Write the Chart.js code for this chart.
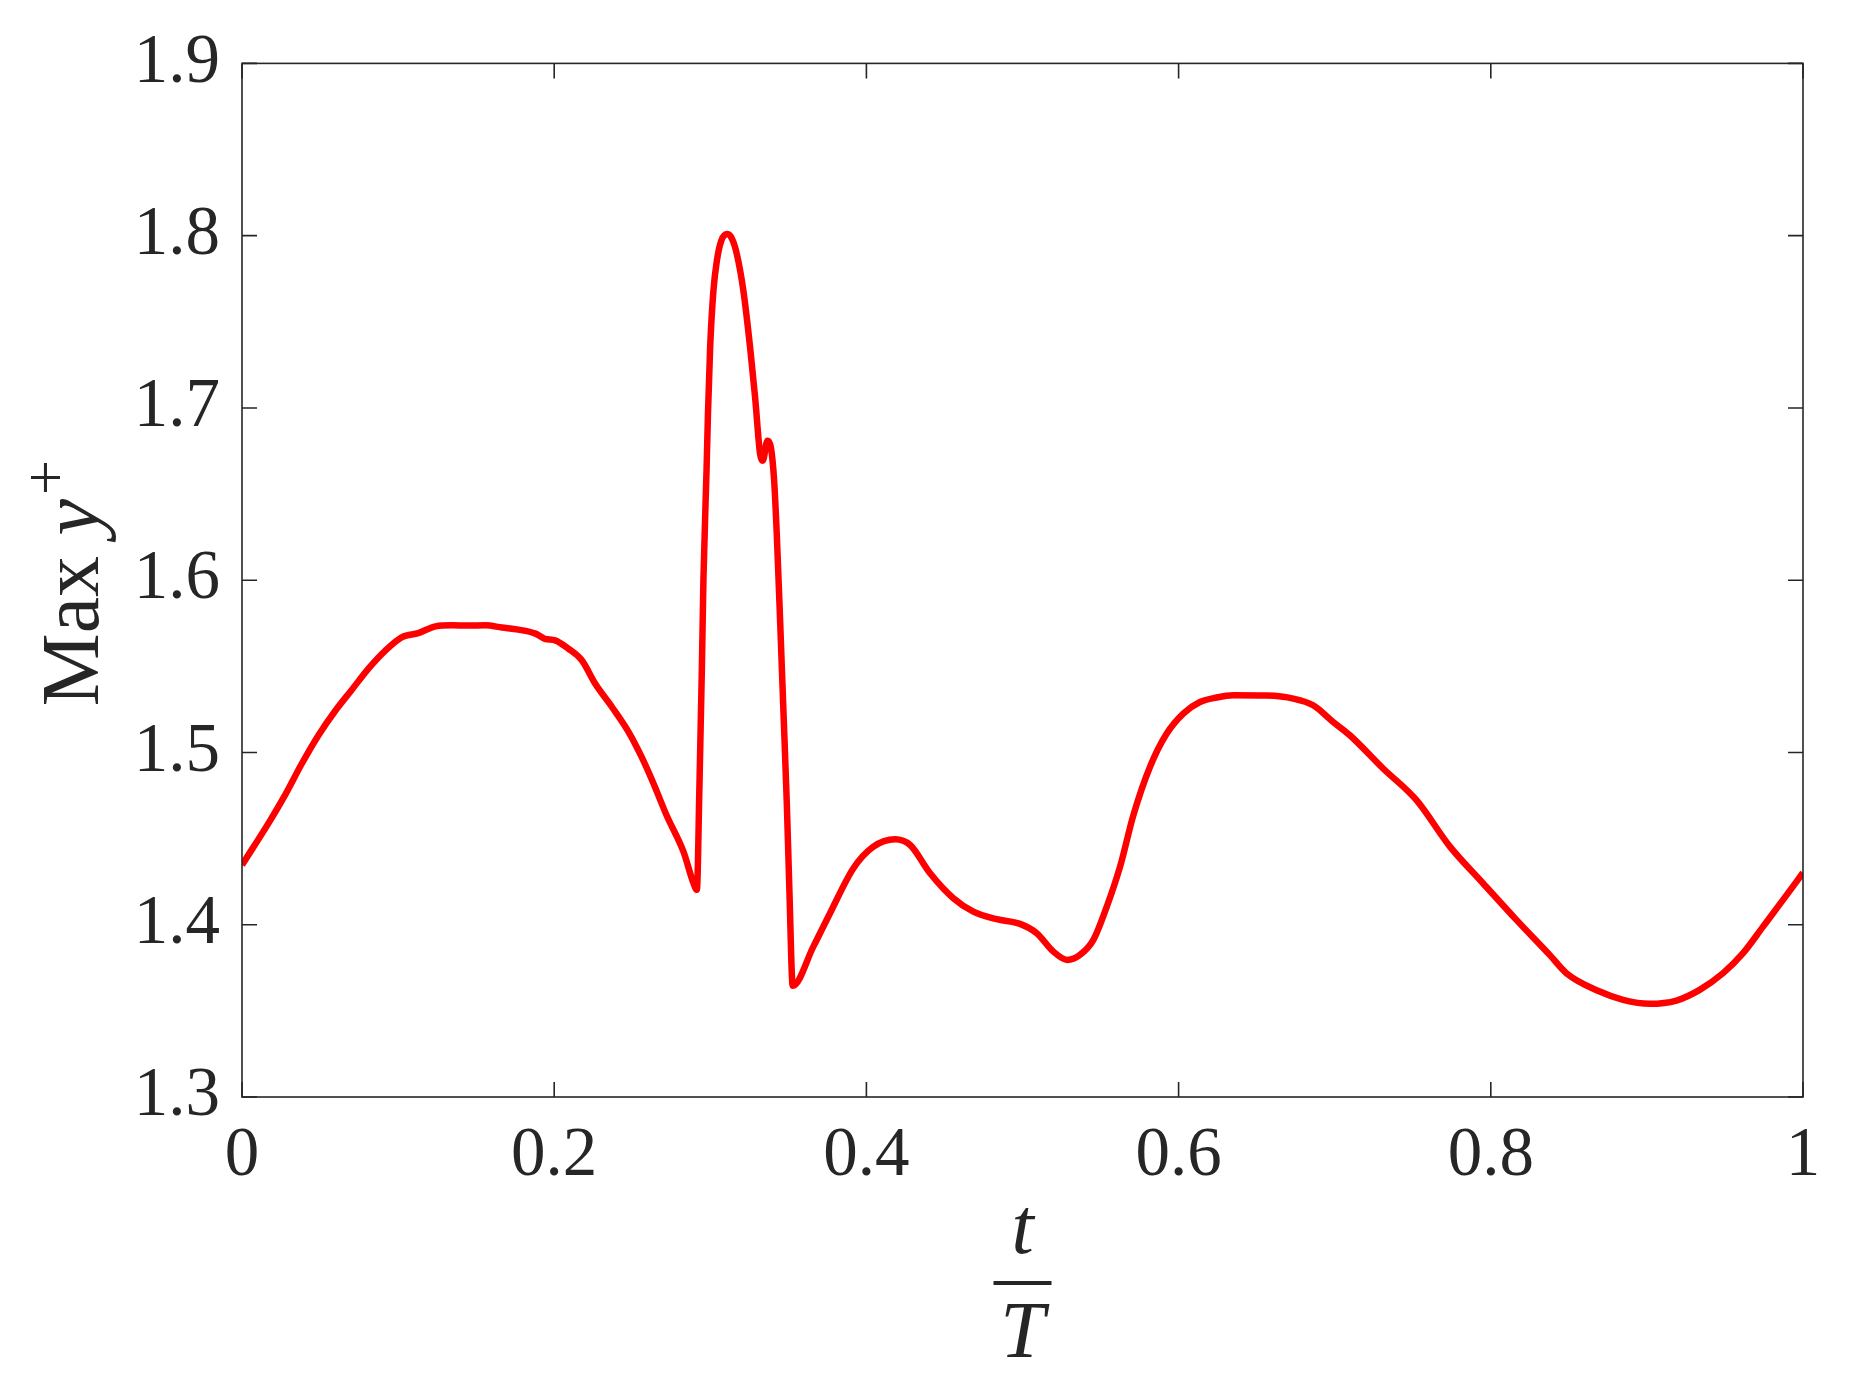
<!DOCTYPE html>
<html>
<head>
<meta charset="utf-8">
<title>Max y+ over one period</title>
<script src="https://cdn.jsdelivr.net/npm/chart.js@4.4.1/dist/chart.umd.min.js"></script>
<style>
  html, body { margin: 0; padding: 0; background: #fff; }
  #wrap { width: 1868px; height: 1391px; }
</style>
</head>
<body>
<div id="wrap"><canvas id="chart" width="1868" height="1391"></canvas></div>
<script>
// Data
const tOverT = [
    0, 0.017, 0.028, 0.038, 0.049, 0.060, 0.070, 0.081, 0.092, 0.1025,
    0.113, 0.124, 0.1345, 0.145, 0.156, 0.1665, 0.177, 0.188, 0.194, 0.2006,
    0.209, 0.2177, 0.2262, 0.237, 0.2476, 0.256, 0.2636, 0.2722, 0.2828, 0.2892,
    0.2914, 0.293, 0.2946, 0.2956, 0.2976, 0.2985, 0.2999, 0.302, 0.3042, 0.307,
    0.311, 0.314, 0.317, 0.3212, 0.3255, 0.3287, 0.3319, 0.3336, 0.3366, 0.3388,
    0.3409, 0.3426, 0.3448, 0.3469, 0.349, 0.3507, 0.3528, 0.366, 0.3767, 0.3917,
    0.4045, 0.4184, 0.428, 0.4408, 0.4557, 0.4685, 0.4835, 0.4984, 0.5091, 0.5198,
    0.5287, 0.5368, 0.5454, 0.554, 0.5625, 0.571, 0.5817, 0.5924, 0.603, 0.6137,
    0.6244, 0.635, 0.6564, 0.6734, 0.6862, 0.699, 0.7097, 0.731, 0.7524, 0.7737,
    0.795, 0.8164, 0.8377, 0.8484, 0.8698, 0.8847, 0.9018, 0.9189, 0.9338, 0.9488,
    0.9616, 0.9744, 0.9872, 1.0
];
const maxYPlus = [
    1.4347, 1.459, 1.476, 1.493, 1.510, 1.5245, 1.536, 1.5487, 1.5593, 1.567,
    1.5693, 1.5732, 1.5738, 1.5737, 1.5738, 1.5725, 1.5713, 1.569, 1.566, 1.5651,
    1.5603, 1.5535, 1.540, 1.5264, 1.512, 1.4974, 1.482, 1.4631, 1.4424, 1.4242,
    1.4203, 1.4787, 1.5487, 1.6005, 1.6640, 1.6965, 1.7351, 1.768, 1.7854, 1.797,
    1.8009, 1.798, 1.7893, 1.768, 1.7351, 1.7062, 1.6733, 1.6694, 1.681, 1.6771,
    1.6578, 1.6264, 1.5746, 1.5228, 1.4709, 1.4191, 1.3646, 1.3873, 1.4067, 1.4328,
    1.4453, 1.4496, 1.4463, 1.4299, 1.4154, 1.4076, 1.4032, 1.4005, 1.3951, 1.3844,
    1.3796, 1.3825, 1.3912, 1.4105, 1.4337, 1.4635, 1.4917, 1.511, 1.5226, 1.5293,
    1.5319, 1.5332, 1.533, 1.5313, 1.5274, 1.5177, 1.510, 1.4907, 1.4723, 1.4455,
    1.4241, 1.4028, 1.3825, 1.3719, 1.3612, 1.3564, 1.3541, 1.356, 1.3622, 1.3719,
    1.3835, 1.3989, 1.4144, 1.4302
];

// Tick positions and labels
const xTicks = [0, 0.2, 0.4, 0.6, 0.8, 1];
const xTickLabels = ['0', '0.2', '0.4', '0.6', '0.8', '1'];
const yTicks = [1.3, 1.4, 1.5, 1.6, 1.7, 1.8, 1.9];
const yTickLabels = ['1.3', '1.4', '1.5', '1.6', '1.7', '1.8', '1.9'];

const axisColor = '#262626';
const serif = '"Liberation Serif", "Times New Roman", serif';

// Box around the plot plus inward tick marks on all four sides
const boxPlugin = {
    id: 'box',
    afterDraw(chart) {
        const ctx = chart.ctx;
        const a = chart.chartArea;
        const xs = chart.scales.x;
        const ys = chart.scales.y;
        const len = 15;
        ctx.save();
        ctx.strokeStyle = axisColor;
        ctx.lineWidth = 1.6;
        ctx.strokeRect(a.left, a.top, a.right - a.left, a.bottom - a.top);
        ctx.beginPath();
        xs.ticks.forEach(t => {
            const px = xs.getPixelForValue(t.value);
            ctx.moveTo(px, a.bottom); ctx.lineTo(px, a.bottom - len);
            ctx.moveTo(px, a.top); ctx.lineTo(px, a.top + len);
        });
        ys.ticks.forEach(t => {
            const py = ys.getPixelForValue(t.value);
            ctx.moveTo(a.left, py); ctx.lineTo(a.left + len, py);
            ctx.moveTo(a.right, py); ctx.lineTo(a.right - len, py);
        });
        ctx.stroke();
        ctx.restore();
    }
};

// Axis titles: "Max y+" (rotated) and the fraction t / T
const titlePlugin = {
    id: 'titles',
    afterDraw(chart) {
        const ctx = chart.ctx;
        const a = chart.chartArea;
        ctx.save();
        ctx.fillStyle = axisColor;
        ctx.textBaseline = 'alphabetic';
        ctx.textAlign = 'left';

        // y title
        const big = '82px ' + serif;
        const bigIt = 'italic 82px ' + serif;
        const sup = '62px ' + serif;
        ctx.font = big;
        const w1 = ctx.measureText('Max ').width;
        ctx.font = bigIt;
        const w2 = ctx.measureText('y').width;
        ctx.font = sup;
        const w3 = ctx.measureText('+').width;
        const total = w1 + w2 + 4 + w3;
        const cy = (a.top + a.bottom) / 2 + 3;
        ctx.translate(98, cy);
        ctx.rotate(-Math.PI / 2);
        let x0 = -total / 2;
        ctx.font = big;
        ctx.fillText('Max ', x0, 0);
        x0 += w1;
        ctx.font = bigIt;
        ctx.fillText('y', x0, 0);
        x0 += w2 + 4;
        ctx.font = sup;
        ctx.fillText('+', x0, -32);
        ctx.setTransform(1, 0, 0, 1, 0, 0);

        // x title as a fraction
        const cx = (a.left + a.right) / 2;
        ctx.textAlign = 'center';
        ctx.font = 'italic 80px ' + serif;
        ctx.fillText('t', cx, 1253);
        ctx.fillText('T', cx, 1357);
        ctx.fillRect(cx - 29, 1281, 58, 4);
        ctx.restore();
    }
};

const ctx = document.getElementById('chart').getContext('2d');
const chart = new Chart(ctx, {
    type: 'line',
    data: {
        datasets: [{
            label: 'Max y+',
            data: tOverT.map((t, i) => ({ x: t, y: maxYPlus[i] })),
            borderColor: '#ff0000',
            backgroundColor: '#ff0000',
            borderWidth: 6.5,
            borderJoinStyle: 'round',
            pointRadius: 0,
            fill: false,
            cubicInterpolationMode: 'monotone'
        }]
    },
    options: {
        responsive: false,
        animation: false,
        devicePixelRatio: 1,
        layout: {
            padding: { top: 62, right: 65, left: 0, bottom: 0 }
        },
        plugins: {
            legend: { display: false },
            tooltip: { enabled: false }
        },
        scales: {
            x: {
                type: 'linear',
                min: 0,
                max: 1,
                afterBuildTicks: scale => {
                    scale.ticks = xTicks.map(v => ({ value: v }));
                },
                afterFit: scale => {
                    scale.height = 294;
                },
                grid: { display: false, drawTicks: false },
                border: { display: false },
                ticks: {
                    color: axisColor,
                    padding: 18,
                    maxRotation: 0,
                    font: { family: serif, size: 69 },
                    callback: (v, i) => xTickLabels[i]
                }
            },
            y: {
                type: 'linear',
                min: 1.3,
                max: 1.9,
                afterBuildTicks: scale => {
                    scale.ticks = yTicks.map(v => ({ value: v }));
                },
                afterFit: scale => {
                    scale.width = 242;
                },
                grid: { display: false, drawTicks: false },
                border: { display: false },
                ticks: {
                    color: axisColor,
                    padding: 22,
                    font: { family: serif, size: 69 },
                    callback: (v, i) => yTickLabels[i]
                }
            }
        }
    },
    plugins: [boxPlugin, titlePlugin]
});
</script>
</body>
</html>
